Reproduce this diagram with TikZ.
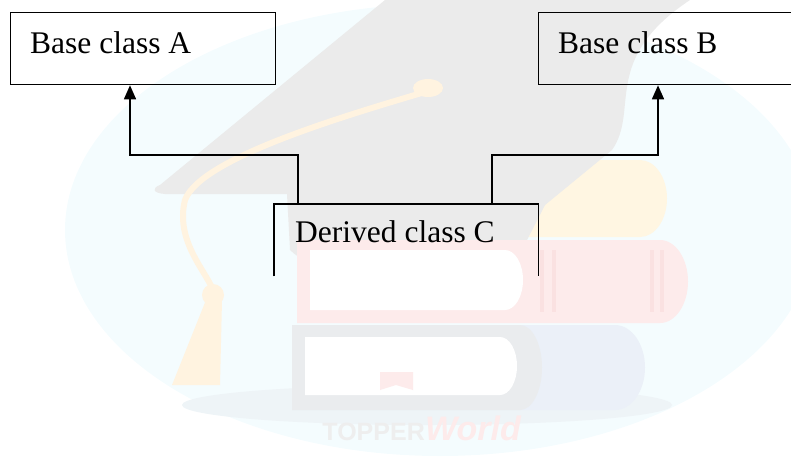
\documentclass[tikz,border=0pt]{standalone}
\usepackage{fontspec}
\setmainfont{Liberation Serif}
\newfontfamily\wmfont{Liberation Sans}
\usetikzlibrary{arrows.meta}

\definecolor{wmblue}{HTML}{F4FCFE}
\definecolor{wmshadow}{HTML}{EEF4F7}
\definecolor{wmgray}{HTML}{EBEBEB}
\definecolor{wmcover}{HTML}{EAECEE}
\definecolor{wmred}{HTML}{FDEBEB}
\definecolor{wmredline}{HTML}{FAE1E1}
\definecolor{wmbluebook}{HTML}{EBF0F8}
\definecolor{wmorange}{HTML}{FFF3E0}
\definecolor{wmyellow}{HTML}{FFF6E2}
\definecolor{wmtext}{HTML}{EEEEEE}

\begin{document}
\begin{tikzpicture}[x=1pt, y=-1pt,
  box/.style={draw, line width=1.3pt, inner sep=0pt, anchor=north west},
  caption/.style={anchor=base west, inner sep=0pt, font=\fontsize{31.5}{36}\selectfont},
  conn/.style={line width=1.6pt, -{Triangle[length=14pt, width=12pt]}},
  side/.style={line width=1.3pt}]
\useasboundingbox (0,0) rectangle (791,456);
\begin{scope}
\clip (0,0) rectangle (791,456);

% ---- background emblem ----
\fill[wmblue] (440,230) ellipse [x radius=375pt, y radius=226pt];
\fill[wmshadow] (427,405) ellipse [x radius=245pt, y radius=20pt];

% top (yellow) book
\fill[wmyellow] (470,160) -- (640,160) arc [start angle=-90, end angle=90, x radius=27pt, y radius=-38.5pt] -- (470,237) -- cycle;

% mortarboard
\fill[wmgray] (160,185) -- (385,0) -- (690,0)
  .. controls (600,60) and (640,110) .. (612,150) -- (545,205) -- (527,240)
  .. controls (500,285) and (330,290) .. (290,250) -- (287,194) -- (165,194)
  .. controls (152,193) and (152,188) .. (160,185) -- cycle;

% red book
\fill[wmred] (297,240) -- (660,240) arc [start angle=-90, end angle=90, x radius=28pt, y radius=-41.5pt] -- (297,323) -- cycle;
\fill[white] (310,250) -- (505,250) arc [start angle=-90, end angle=90, x radius=18pt, y radius=-30pt] -- (310,310) -- cycle;
\foreach \xx in {540,552,650,660}
  \fill[wmredline] (\xx,250) rectangle ++(4,62);

% blue book
\fill[wmbluebook] (292,325) -- (615,325) arc [start angle=-90, end angle=90, x radius=30pt, y radius=-42.5pt] -- (292,410) -- cycle;
\fill[wmcover] (292,325) -- (520,325) arc [start angle=-90, end angle=90, x radius=22pt, y radius=-42.5pt] -- (292,410) -- cycle;
\fill[white] (305,337) -- (500,337) arc [start angle=-90, end angle=90, x radius=17pt, y radius=-29pt] -- (305,395) -- cycle;
\fill[wmred] (380,372) -- (413,372) -- (413,390) -- (396,385) -- (380,390) -- cycle;

% tassel
\draw[wmorange, line width=6pt, line cap=round]
  (425,92) .. controls (330,120) and (200,160) .. (185,200)
  .. controls (175,240) and (205,270) .. (213,290);
\fill[wmorange] (428,88) ellipse [x radius=15pt, y radius=9pt];
\fill[wmorange] (213,295) circle [radius=11pt];
\fill[wmorange] (206,300) -- (222,300) -- (220,385) -- (172,385) -- cycle;

% brand mark
\node[anchor=base east, inner sep=0pt, text=wmtext,
  font=\wmfont\bfseries\fontsize{25}{30}\selectfont] (brand) at (425,440) {TOPPER};
\node[anchor=base west, inner sep=0pt, text=wmred,
  font=\wmfont\bfseries\itshape\fontsize{34}{40}\selectfont] (brandw) at (brand.base east) {World};

% ---- class diagram ----
\node[box, minimum width=265pt, minimum height=72pt] (A) at (10,12) {};
\node[box, minimum width=262pt, minimum height=72pt] (B) at (538,12) {};
\node[anchor=north west, inner sep=0pt, minimum width=264pt, minimum height=72pt] (C) at (274,204) {};

\node[caption] (tA) at (30,53) {Base class A};
\node[caption] (tB) at (558,53) {Base class B};
\node[caption] (tC) at (295,242) {Derived class C};

% derived box is open at the bottom
\draw[side] (C.south west) -- (C.north west) -- (C.north east) -- (C.south east);

\draw[conn] ([xshift=24pt]C.north west) -- ++(0,-49) -| ([xshift=120pt]A.south west);
\draw[conn] ([xshift=218pt]C.north west) -- ++(0,-49) -| ([xshift=120pt]B.south west);
\end{scope}
\end{tikzpicture}
\end{document}
